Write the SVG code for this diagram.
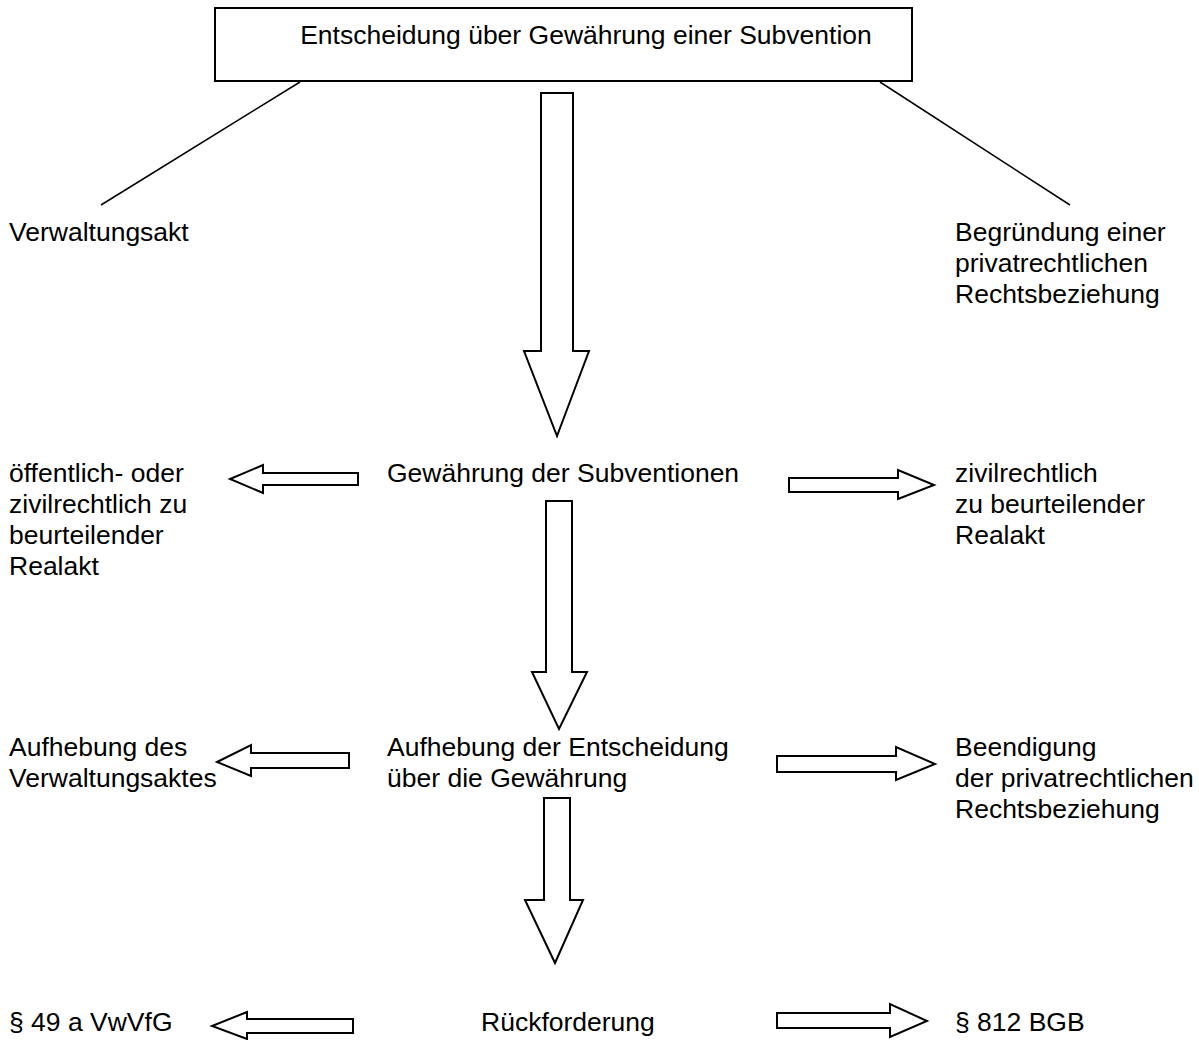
<svg xmlns="http://www.w3.org/2000/svg" width="1199" height="1040" viewBox="0 0 1199 1040">
<style>
text{font-family:"Liberation Sans",Arial,sans-serif;font-size:26.5px;fill:#000}
.box{fill:#fff;stroke:#000;stroke-width:2}
.arr{fill:#fff;stroke:#000;stroke-width:2;stroke-linejoin:miter}
.ln{stroke:#000;stroke-width:1.5;fill:none}
</style>
<rect width="1199" height="1040" fill="#fff"/>
<g id="top">
<rect class="box" x="215" y="8" width="697" height="73"/>
<text x="586" y="44" text-anchor="middle">Entscheidung über Gewährung einer Subvention</text>
</g>
<g id="verwaltungsakt"><text x="9" y="241">Verwaltungsakt</text></g>
<g id="begruendung"><text x="955" y="241">Begründung einer</text><text x="955" y="272">privatrechtlichen</text><text x="955" y="303">Rechtsbeziehung</text></g>
<g id="oeffentlich"><text x="9" y="482">öffentlich- oder</text><text x="9" y="513">zivilrechtlich zu</text><text x="9" y="544">beurteilender</text><text x="9" y="575">Realakt</text></g>
<g id="gewaehrung"><text x="387" y="482">Gewährung der Subventionen</text></g>
<g id="zivil"><text x="955" y="482">zivilrechtlich</text><text x="955" y="513">zu beurteilender</text><text x="955" y="544">Realakt</text></g>
<g id="aufhebungVA"><text x="9" y="756">Aufhebung des</text><text x="9" y="787">Verwaltungsaktes</text></g>
<g id="aufhebung"><text x="387" y="756">Aufhebung der Entscheidung</text><text x="387" y="787">über die Gewährung</text></g>
<g id="beendigung"><text x="955" y="756">Beendigung</text><text x="955" y="787">der privatrechtlichen</text><text x="955" y="818">Rechtsbeziehung</text></g>
<g id="vwvfg"><text x="9" y="1031">§ 49 a VwVfG</text></g>
<g id="rueck"><text x="481" y="1031">Rückforderung</text></g>
<g id="bgb"><text x="955" y="1031">§ 812 BGB</text></g>
<g id="connectors">
<line class="ln" x1="300" y1="82" x2="101" y2="205"/>
<line class="ln" x1="880" y1="82" x2="1070" y2="205"/>
<polygon class="arr" points="541,93 573,93 573,351 589,351 557,436 524,351 541,351"/>
<polygon class="arr" points="546,501 572,501 572,672 587,672 559,729 532,672 546,672"/>
<polygon class="arr" points="544,798 570,798 570,900 583,900 555,963 525,900 544,900"/>
<polygon class="arr" points="358,473 358,485 263,485 263,493 230,479 263,465 263,473"/>
<polygon class="arr" points="789,478 789,492 898,492 898,499 934,485 898,470 898,478"/>
<polygon class="arr" points="349,753 349,768 251,768 251,776 217,762 251,745 251,753"/>
<polygon class="arr" points="777,756 777,772 896,772 896,780 935,764 896,747 896,756"/>
<polygon class="arr" points="353,1019 353,1033 247,1033 247,1039 212,1026 247,1012 247,1019"/>
<polygon class="arr" points="777,1013 777,1028 890,1028 890,1037 927,1021 890,1004 890,1013"/>
</g>
</svg>
